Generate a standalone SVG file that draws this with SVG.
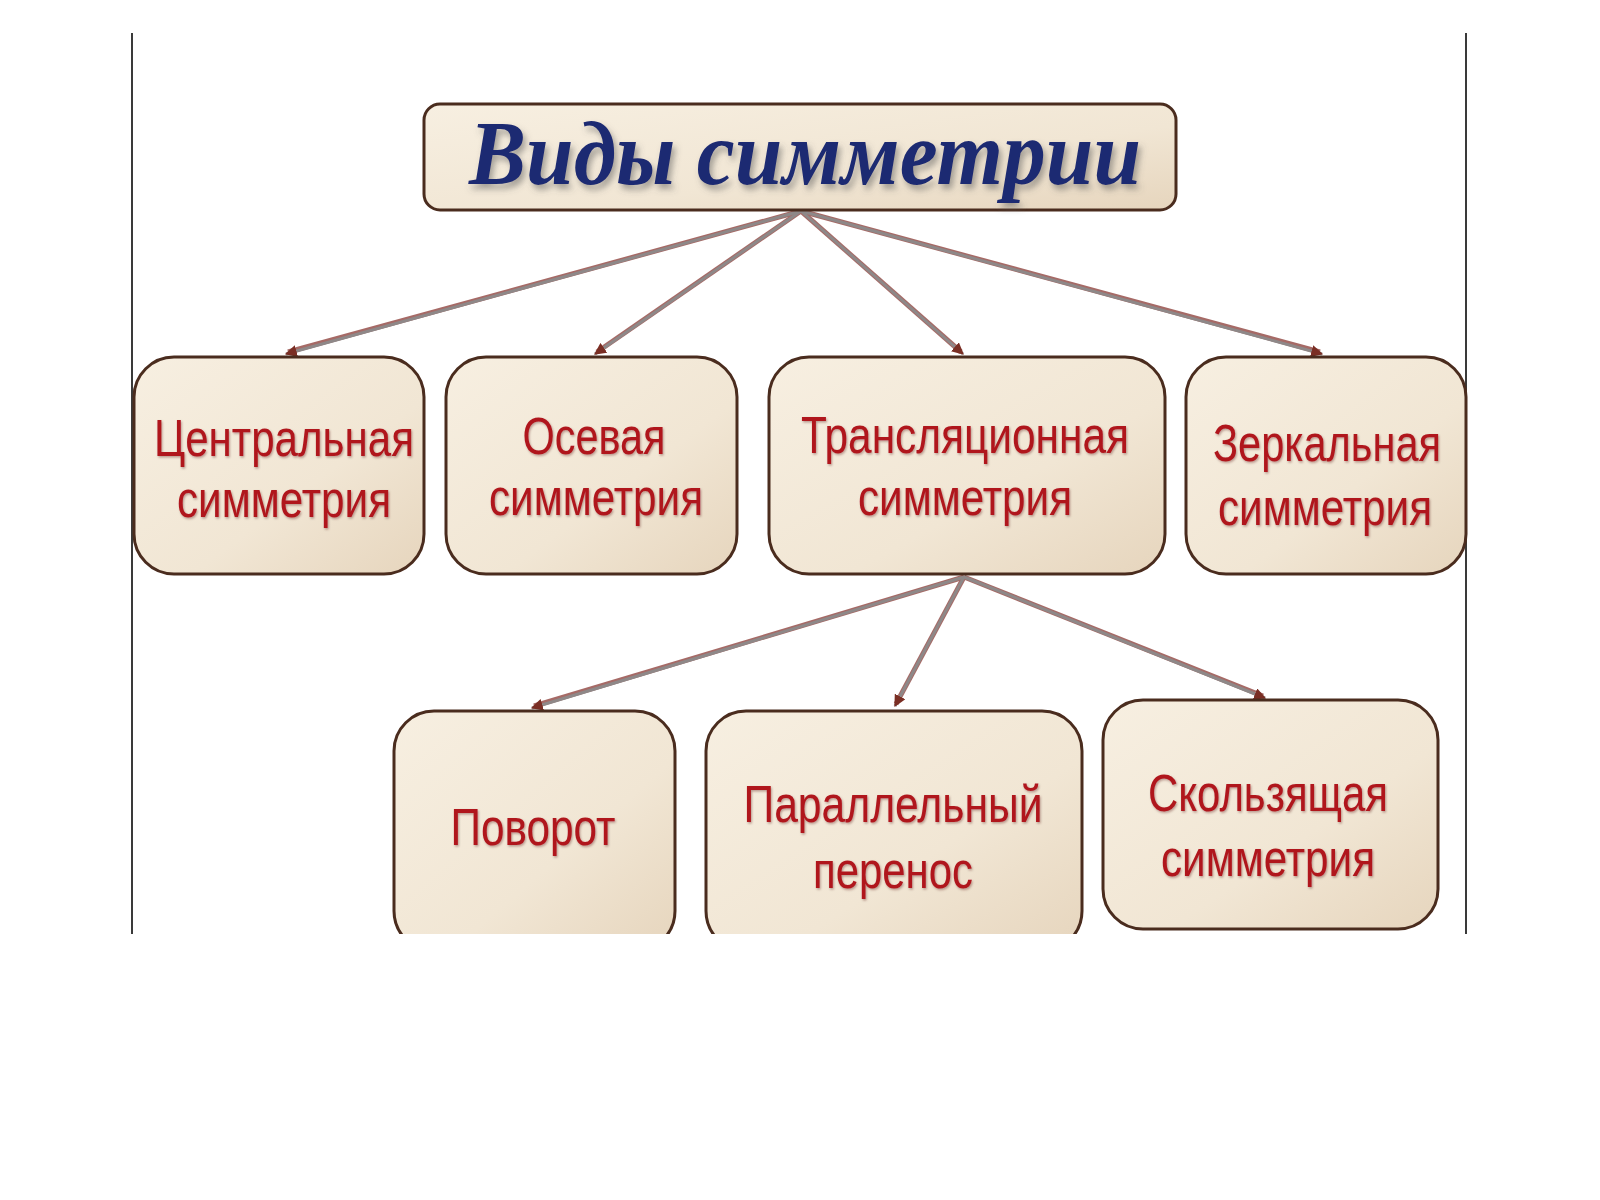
<svg xmlns="http://www.w3.org/2000/svg" width="1600" height="1200" viewBox="0 0 1600 1200">
<defs>
<style>
.box{fill:url(#boxg);stroke:#4a2c1e;stroke-width:3}
.lbl{font-family:"Liberation Sans","Noto Sans",sans-serif;font-size:52px;fill:#b0161e;text-anchor:middle;filter:url(#ts)}
.title{font-family:"Liberation Serif","DejaVu Serif",serif;font-style:italic;font-weight:bold;font-size:92px;fill:#1c2a72;text-anchor:middle;filter:url(#tts)}
.edge-o{stroke:#a66a66;stroke-width:5;fill:none}
.edge{stroke:#8e8888;stroke-width:3;fill:none;marker-end:url(#ah)}
.frame{stroke:#3a3a3a;stroke-width:2}
</style>
<linearGradient id="boxg" x1="0" y1="0" x2="1" y2="1">
<stop offset="0" stop-color="#f7efe1"/>
<stop offset="0.6" stop-color="#f1e6d4"/>
<stop offset="1" stop-color="#e6d5bd"/>
</linearGradient>
<filter id="ts" x="-10%" y="-20%" width="120%" height="140%">
<feDropShadow dx="1" dy="1.5" stdDeviation="1" flood-color="#4a0000" flood-opacity="0.35"/>
</filter>
<filter id="tts" x="-10%" y="-20%" width="120%" height="150%">
<feDropShadow dx="3" dy="5" stdDeviation="3" flood-color="#555" flood-opacity="0.5"/>
</filter>
<marker id="ah" viewBox="0 0 10 10" refX="9" refY="5" markerWidth="4" markerHeight="4" orient="auto" markerUnits="strokeWidth">
<path d="M0,0 L10,5 L0,10 z" fill="#7a2e24"/>
</marker>
<clipPath id="cl"><rect x="0" y="0" width="1600" height="934"/></clipPath>
</defs>
<rect x="0" y="0" width="1600" height="1200" fill="#ffffff"/>
<g id="frame">
<line class="frame" x1="132" y1="33" x2="132" y2="934"/>
<line class="frame" x1="1466" y1="33" x2="1466" y2="934"/>
</g>
<g clip-path="url(#cl)">
<g id="connectors">
<line class="edge-o" x1="801" y1="211" x2="288" y2="352"/>
<line class="edge-o" x1="801" y1="211" x2="597" y2="352"/>
<line class="edge-o" x1="801" y1="211" x2="961" y2="352"/>
<line class="edge-o" x1="801" y1="211" x2="1320" y2="352"/>
<line class="edge-o" x1="964" y1="577" x2="534" y2="706"/>
<line class="edge-o" x1="964" y1="577" x2="896" y2="704"/>
<line class="edge-o" x1="964" y1="577" x2="1263" y2="696"/>
<line class="edge" x1="801" y1="211" x2="286" y2="354"/>
<line class="edge" x1="801" y1="211" x2="595" y2="354"/>
<line class="edge" x1="801" y1="211" x2="963" y2="354"/>
<line class="edge" x1="801" y1="211" x2="1322" y2="354"/>
<line class="edge" x1="964" y1="577" x2="532" y2="708"/>
<line class="edge" x1="964" y1="577" x2="895" y2="706"/>
<line class="edge" x1="964" y1="577" x2="1265" y2="698"/>
</g>
<g id="n0">
<rect class="box" x="424" y="104" width="752" height="106" rx="16"/>
<text class="title" x="805" y="184" textLength="672" lengthAdjust="spacingAndGlyphs">Виды симметрии</text>
</g>
<g id="n1">
<rect class="box" x="134" y="357" width="290" height="217" rx="40"/>
<text class="lbl" x="284" y="456" textLength="260" lengthAdjust="spacingAndGlyphs">Центральная</text>
<text class="lbl" x="284" y="517" textLength="214" lengthAdjust="spacingAndGlyphs">симметрия</text>
</g>
<g id="n2">
<rect class="box" x="446" y="357" width="291" height="217" rx="40"/>
<text class="lbl" x="594" y="454" textLength="143" lengthAdjust="spacingAndGlyphs">Осевая</text>
<text class="lbl" x="596" y="515" textLength="214" lengthAdjust="spacingAndGlyphs">симметрия</text>
</g>
<g id="n3">
<rect class="box" x="769" y="357" width="396" height="217" rx="40"/>
<text class="lbl" x="965" y="453" textLength="328" lengthAdjust="spacingAndGlyphs">Трансляционная</text>
<text class="lbl" x="965" y="515" textLength="214" lengthAdjust="spacingAndGlyphs">симметрия</text>
</g>
<g id="n4">
<rect class="box" x="1186" y="357" width="280" height="217" rx="40"/>
<text class="lbl" x="1327" y="461" textLength="228" lengthAdjust="spacingAndGlyphs">Зеркальная</text>
<text class="lbl" x="1325" y="525" textLength="214" lengthAdjust="spacingAndGlyphs">симметрия</text>
</g>
<g id="n5">
<rect class="box" x="394" y="711" width="281" height="240" rx="40"/>
<text class="lbl" x="533" y="845" textLength="165" lengthAdjust="spacingAndGlyphs">Поворот</text>
</g>
<g id="n6">
<rect class="box" x="706" y="711" width="376" height="240" rx="40"/>
<text class="lbl" x="893" y="822" textLength="299" lengthAdjust="spacingAndGlyphs">Параллельный</text>
<text class="lbl" x="893" y="888" textLength="160" lengthAdjust="spacingAndGlyphs">перенос</text>
</g>
<g id="n7">
<rect class="box" x="1103" y="700" width="335" height="229" rx="40"/>
<text class="lbl" x="1268" y="811" textLength="240" lengthAdjust="spacingAndGlyphs">Скользящая</text>
<text class="lbl" x="1268" y="876" textLength="214" lengthAdjust="spacingAndGlyphs">симметрия</text>
</g>
</g>
</svg>
